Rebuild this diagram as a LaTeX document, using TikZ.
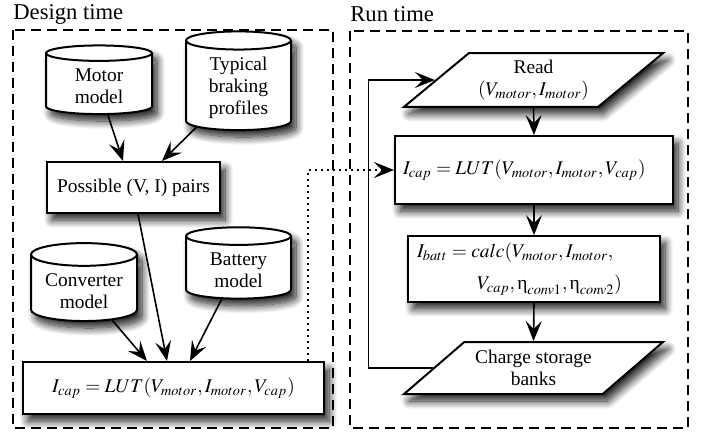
\documentclass[tikz,border=0pt]{standalone}
\usepackage{amsmath}
\usepackage{mathptmx}
\usepackage{fontspec}
\setmainfont{Liberation Serif}
\usetikzlibrary{positioning}
\usetikzlibrary{shapes.geometric}
\usetikzlibrary{arrows.meta}
\usetikzlibrary{shadows.blur}

\newcommand{\upeta}{\mbox{η}}

\tikzset{
  block/.style={draw,line width=1pt,fill=white,
    font=\fontsize{9.7}{11}\selectfont,
    blur shadow={shadow xshift=2.5pt,shadow yshift=-3.5pt,shadow blur radius=4pt,
      shadow blur steps=12,shadow opacity=90}},
  store/.style={block,cylinder,shape border rotate=90,aspect=0.25,align=center},
  inout/.style={block,trapezium,trapezium left angle=44,trapezium right angle=136,
    trapezium stretches=true,align=center,inner xsep=0pt},
  flow/.style={line width=0.8pt,-{Stealth[length=10pt,width=8pt,inset=4pt]}},
  frame/.style={line width=0.75pt,dash pattern=on 5pt off 3pt},
  title/.style={anchor=west,inner sep=0pt,font=\fontsize{11.3}{13}\selectfont}
}

\begin{document}
\begin{tikzpicture}[x=0.5pt,y=-0.5pt]
    \useasboundingbox (0,0) rectangle (705,435);
    % frames
    \draw[frame] (13,30) rectangle (333,428);
    \draw[frame] (350,31) rectangle (688,428);
    \node[title] (design) at (13,14) {Design time};
    \node[title] (run) at (350,14) {Run time};

    % design time
    \node[store,minimum width=53pt,minimum height=33pt] (motor) at (99,86) {Motor\\model};
    \node[store,minimum width=52.5pt,minimum height=45pt] (braking) at (238.5,88) {Typical\\braking\\profiles};
    \node[block,minimum width=86.5pt,minimum height=25.5pt] (pairs) at (133.5,187.5) {Possible (V, I) pairs};
    \node[store,minimum width=53pt,minimum height=34pt] (conv) at (84,291) {Converter\\model};
    \node[store,minimum width=52.5pt,minimum height=33pt] (batt) at (238.5,270) {Battery\\model};
    \node[block,minimum width=150.5pt,minimum height=26pt] (lutd) at (173.5,388)
        {$I_{cap} = LUT(V_{motor}, I_{motor}, V_{cap})$};

    \draw[flow] (motor.287) -- ([xshift=-5.25pt]pairs.north);
    \draw[flow] (braking.223) -- ([xshift=14.25pt]pairs.north);
    \draw[flow] ([xshift=2.25pt]pairs.south) -- ([xshift=-3.25pt]lutd.north);
    \draw[flow] (conv.314) -- ([xshift=-13.25pt]lutd.north);
    \draw[flow] (batt.240) -- ([xshift=8.25pt]lutd.north);

    % run time
    \node[inout,minimum width=129.5pt,minimum height=26pt] (read) at (533.5,80)
        {Read\\$(V_{motor}, I_{motor})$};
    \node[block,minimum height=34pt,text width=131pt,inner xsep=4pt,align=left] (lutr) at (534,170)
        {$I_{cap} = LUT(V_{motor}, I_{motor}, V_{cap})$};
    \node[block,minimum height=30pt,text width=117pt,inner xsep=4.5pt,align=left] (calc) at (534,269)
        {$I_{batt} = calc(V_{motor}, I_{motor},$\\[5pt]
         \hspace*{30pt}$V_{cap}, \upeta_{conv1}, \upeta_{conv2})$};
    \node[inout,minimum width=129.5pt,minimum height=26pt] (charge) at (533.5,368)
        {Charge storage\\banks};

    \draw[flow] (read.south) -- (lutr.north);
    \draw[flow] (lutr.south) -- (calc.north);
    \draw[flow] (calc.south) -- (charge.north);
    \draw[flow] (charge.west) -- ++(-32pt,0) |- (read.west);

    \draw[flow,dash pattern=on 1pt off 2pt] ([xshift=67.25pt]lutd.north) |- (lutr.west);
\end{tikzpicture}
\end{document}
